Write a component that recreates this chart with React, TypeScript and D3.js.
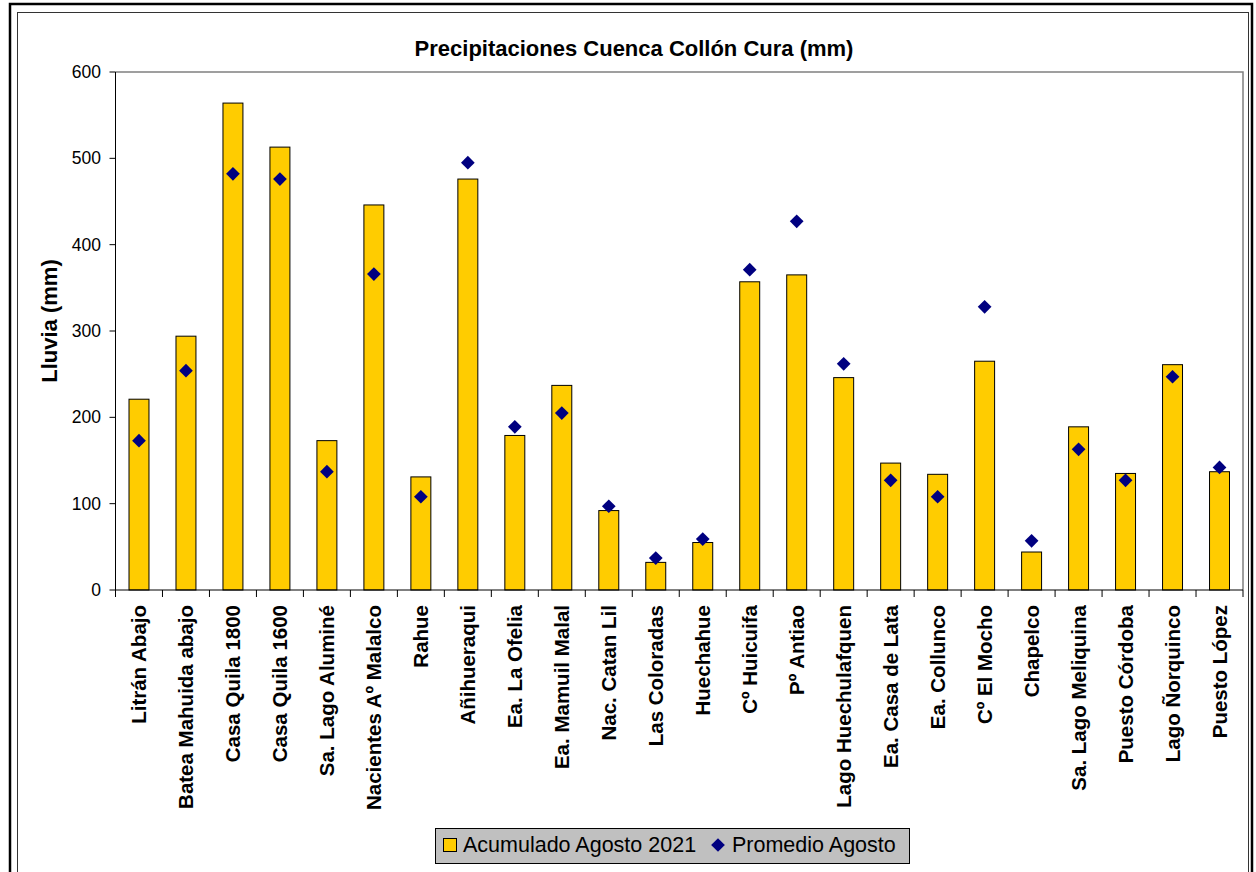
import React from 'react';
import * as d3 from 'd3';

const stations = [
  'Litrán Abajo', 'Batea Mahuida abajo', 'Casa Quila 1800', 'Casa Quila 1600',
  'Sa. Lago Aluminé', 'Nacientes Aº Malalco', 'Rahue', 'Añihueraqui',
  'Ea. La Ofelia', 'Ea. Mamuil Malal', 'Nac. Catan Lil', 'Las Coloradas',
  'Huechahue', 'Cº Huicuifa', 'Pº Antiao', 'Lago Huechulafquen',
  'Ea. Casa de Lata', 'Ea. Collunco', 'Cº El Mocho', 'Chapelco',
  'Sa. Lago Meliquina', 'Puesto Córdoba', 'Lago Ñorquinco', 'Puesto López',
];

// Acumulado Agosto 2021 (bars)
const acumulado = [
  221, 294, 564, 513, 173, 446, 131, 476, 179, 237, 92, 32,
  55, 357, 365, 246, 147, 134, 265, 44, 189, 135, 261, 137,
];

// Promedio Agosto (diamonds)
const promedio = [
  173, 254, 482, 476, 137, 366, 108, 495, 189, 205, 97, 37,
  59, 371, 427, 262, 127, 108, 328, 57, 163, 127, 247, 142,
];

const yTicks = [0, 100, 200, 300, 400, 500, 600];

const W = 1256;
const H = 872;
const plot = { left: 115.5, right: 1243, top: 72, bottom: 590 };
const font = 'Arial, "Liberation Sans", sans-serif';

export default function App() {
  const x = d3
    .scaleBand<string>()
    .domain(stations)
    .range([plot.left, plot.right])
    .paddingInner(0.575)
    .paddingOuter(0.2875);
  const band = d3.scaleBand<string>().domain(stations).range([plot.left, plot.right]);
  const y = d3.scaleLinear().domain([0, 600]).range([plot.bottom, plot.top]);
  const diamond = d3.symbol().type(d3.symbolDiamond2).size(120)() as string;

  return (
    <div style={{ position: 'absolute', left: 0, top: 0 }}>
      <svg width={W} height={H} style={{ display: 'block', fontFamily: font }}>
        <rect x={0} y={0} width={W} height={H} fill="#fff" />
        {/* outer frame */}
        <path d={`M10,${H + 5} V4 H1252 V${H + 5}`} fill="none" stroke="#000" strokeWidth={2.5} />
        {/* chart area */}
        <rect x={17.5} y={12.5} width={1231} height={H + 10} fill="#fff" stroke="#333" strokeWidth={1} />

        <text x={634} y={56} textAnchor="middle" fontSize={22} fontWeight="bold">
          Precipitaciones Cuenca Collón Cura (mm)
        </text>

        {/* plot area border */}
        <path
          d={`M${plot.left},${plot.top} H${plot.right} V${plot.bottom}`}
          fill="none"
          stroke="#808080"
          strokeWidth={1.5}
        />

        {/* y axis */}
        <line x1={plot.left} x2={plot.left} y1={plot.top} y2={plot.bottom} stroke="#000" />
        {yTicks.map((t) => (
          <g key={t}>
            <line x1={plot.left - 6} x2={plot.left} y1={y(t)} y2={y(t)} stroke="#000" />
            <text x={101} y={y(t)} dy="0.35em" textAnchor="end" fontSize={17.5}>
              {t}
            </text>
          </g>
        ))}
        <text
          transform={`translate(57,${(plot.top + plot.bottom) / 2 - 10}) rotate(-90)`}
          textAnchor="middle"
          fontSize={22}
          fontWeight="bold"
        >
          Lluvia (mm)
        </text>

        {/* bars */}
        {stations.map((s, i) => (
          <rect
            key={s}
            x={x(s)}
            y={y(acumulado[i])}
            width={x.bandwidth()}
            height={y(0) - y(acumulado[i])}
            fill="#FFCC00"
            stroke="#000"
            strokeWidth={1}
          />
        ))}

        {/* x axis */}
        <line x1={plot.left} x2={plot.right} y1={plot.bottom} y2={plot.bottom} stroke="#000" />
        {stations.map((s) => (
          <line
            key={'t' + s}
            x1={(band(s) as number) + band.bandwidth()}
            x2={(band(s) as number) + band.bandwidth()}
            y1={plot.bottom}
            y2={plot.bottom + 7}
            stroke="#000"
          />
        ))}
        <line x1={plot.left} x2={plot.left} y1={plot.bottom} y2={plot.bottom + 7} stroke="#000" />
        {stations.map((s) => (
          <text
            key={'l' + s}
            transform={`translate(${(band(s) as number) + band.bandwidth() / 2 + 7},605) rotate(-90)`}
            textAnchor="end"
            fontSize={20.5}
            fontWeight="bold"
          >
            {s}
          </text>
        ))}

        {/* promedio markers */}
        {stations.map((s, i) => (
          <path
            key={'m' + s}
            d={diamond}
            transform={`translate(${(band(s) as number) + band.bandwidth() / 2},${y(promedio[i])})`}
            fill="#000080"
          />
        ))}

        {/* legend */}
        <rect x={435.5} y={828.5} width={474} height={35} fill="#C0C0C0" stroke="#000" />
        <rect x={443.5} y={838.5} width={13} height={13} fill="#FFCC00" stroke="#000" />
        <text x={463} y={852} fontSize={21.5}>
          Acumulado Agosto 2021
        </text>
        <path d={diamond} transform="translate(718,845)" fill="#000080" />
        <text x={732} y={852} fontSize={21.5}>
          Promedio Agosto
        </text>
      </svg>
    </div>
  );
}
